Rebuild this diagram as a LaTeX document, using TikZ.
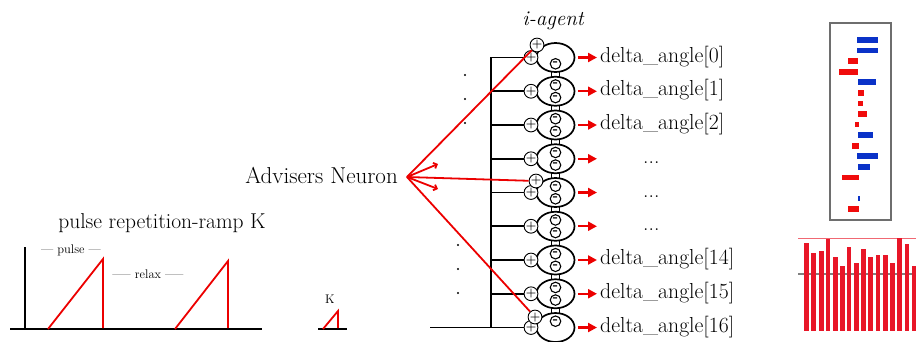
\documentclass[tikz,border=0pt]{standalone}
\usepackage{fontspec}
\usetikzlibrary{shapes.geometric,arrows.meta}
\definecolor{wirered}{RGB}{236,0,0}
\definecolor{barblue}{RGB}{10,50,200}
\definecolor{barred}{RGB}{240,12,12}
\definecolor{colred}{RGB}{232,22,40}
\definecolor{framegray}{RGB}{110,110,110}
\pgfdeclarelayer{bg}
\pgfsetlayers{bg,main}
\begin{document}
\begin{tikzpicture}[x=1pt,y=-1pt,
  wire/.style={line width=1.8pt,black},
  redwire/.style={line width=1.8pt,wirered},
  outarrow/.style={line width=2.4pt,wirered,-{Triangle[length=9pt,width=9pt]}},
  cell/.style={ellipse,draw,line width=1.7pt,fill=white,minimum width=38pt,minimum height=29pt,inner sep=0pt},
  plusnode/.style={circle,draw,line width=0.9pt,fill=white,minimum size=10.5pt,inner sep=0pt,font=\fontsize{12}{12}\selectfont\bfseries},
  minusnode/.style={circle,draw,line width=1.1pt,minimum size=10.5pt,inner sep=0pt,font=\fontsize{14}{14}\selectfont\bfseries},
  txt/.style={font=\fontsize{21.7}{24}\selectfont,inner sep=0pt},
  smalltxt/.style={font=\fontsize{12.5}{14}\selectfont,inner sep=0pt}
]
\useasboundingbox (0,0) rectangle (916,341);

% ---------- pulse repetition ramp ----------
\node[txt,font=\fontsize{21.5}{24}\selectfont,anchor=base] (ramptitle) at (162,228) {pulse repetition-ramp K};
\node[smalltxt,anchor=base] (pulselbl) at (71,253) {— pulse —};
\node[smalltxt,anchor=base] (relaxlbl) at (148,278) {\scalebox{1.5}[1]{—} relax \scalebox{1.5}[1]{—}};
\draw[wire] (25,247) -- (25,329);
\draw[wire] (10,329) -- (262,329);
\draw[redwire] (48,329) -- (103,259) -- (103,328);
\draw[redwire] (175,329) -- (228,261) -- (228,328);

% single ramp K
\node[smalltxt,anchor=base] (klbl) at (330,303) {K};
\draw[wire] (318,329) -- (347,329);
\draw[redwire] (323,329) -- (338,311) -- (338,328);

% ---------- agent column ----------
\node[font=\fontsize{21}{24}\selectfont\itshape,anchor=base,inner sep=0pt] (agent) at (553,25) {i-agent};

\foreach \i in {0,...,8}{
  \pgfmathsetmacro{\yy}{57.5+33.75*\i}
  \node[cell] (e\i) at (555.5,\yy) {};
  \node[plusnode] (p\i) at (531,\yy) {+};
  \coordinate (a\i) at (597,\yy);
  \draw[outarrow] ([xshift=2.5pt]e\i.east) -- (a\i);
}
% links between neighbouring cells
\begin{pgfonlayer}{bg}
\foreach \i/\j in {0/1,1/2,2/3,3/4,4/5,5/6,6/7,7/8}{
  \draw[line width=1.6pt] ([xshift=-4pt]e\i.center) -- ([xshift=-4pt]e\j.center);
  \draw[line width=1.6pt] ([xshift=4pt]e\i.center) -- ([xshift=4pt]e\j.center);
}
\end{pgfonlayer}
% inhibitory marks inside the cells
\foreach \i in {1,...,8}{
  \node[minusnode] (mt\i) at ([yshift=6.3pt]e\i.center) {\raisebox{-0.05em}{-}};
}
\foreach \i in {0,...,7}{
  \node[minusnode] (mb\i) at ([yshift=-6.3pt]e\i.center) {\raisebox{-0.05em}{-}};
}

% output labels
\foreach \i/\lbl in {0/0,1/1,2/2,6/14,7/15,8/16}{
  \node[txt,anchor=base west] (d\i) at ([xshift=3pt,yshift=-4.5pt]a\i) {delta\_angle[\lbl]};
}
\foreach \i in {3,4,5}{
  \node[txt,anchor=base west] (d\i) at ([xshift=46pt,yshift=-4.5pt]a\i) {...};
}

% input bus
\coordinate (busbot) at (491,327.5);
\coordinate (gnd) at (430,327.5);
\draw[wire] (p0.west) -| (busbot);
\foreach \i in {1,...,7}{
  \draw[wire] (p\i.west) -- (p\i.west -| busbot);
}
\draw[wire] (gnd) -- (p8.west);

% continuation dots
\foreach \py in {75,99,123}{ \fill (465,\py) circle (1.2pt); }
\foreach \py in {245,269,293}{ \fill (458,\py) circle (1.2pt); }

% advisers neuron and its projections
\node[txt,font=\fontsize{23}{26}\selectfont,anchor=base east] (adv) at (398,183) {Advisers Neuron};
\coordinate (tip) at (407,177);
\node[plusnode] (q0) at (537,45) {+};
\node[plusnode] (q1) at (536,181) {+};
\node[plusnode] (q2) at (535,317) {+};
\draw[redwire] (tip) -- (q0);
\draw[redwire] (tip) -- (q1);
\draw[redwire] (tip) -- (q2);
\coordinate (b1) at (438,164);
\coordinate (b2) at (438,189);
\draw[redwire,-{Straight Barb[length=3pt,width=6pt]}] (tip) -- (b1);
\draw[redwire,-{Straight Barb[length=3pt,width=6pt]}] (tip) -- (b2);

% ---------- angle change panel ----------
\draw[framegray,line width=1.2pt] (830,23) rectangle (891,220);
\foreach \k/\xa/\xb/\c in {0/857/878/barblue,1/857/878/barblue,2/848/858/barred,3/839/858/barred,
  4/858/876/barblue,5/858/864/barred,6/858/863/barred,7/858/867/barred,8/855/859/barred,
  9/858/873/barblue,10/852/859/barred,11/857/878/barblue,12/858/870/barblue,13/842/859/barred,
  15/858/860/barblue,16/848/859/barred}{
  \pgfmathsetmacro{\yc}{40+10.57*\k}
  \fill[\c] (\xa,\yc-2.8) rectangle (\xb,\yc+2.8);
}

% ---------- column chart ----------
\draw[colred!65,line width=0.9pt] (798,238) -- (916,238);
\draw[gray,line width=1.4pt] (798,274) -- (916,274);
\foreach \bx/\top in {804/243,811/253,819/251,825.5/239,833/257,840/266,846.5/247,854/263,
  861/249,868/257,875.5/255,883/255,890/263,897/238,904.5/244,911.5/266}{
  \fill[colred] (\bx,331) rectangle (\bx+4.6,\top);
}
\end{tikzpicture}
\end{document}
